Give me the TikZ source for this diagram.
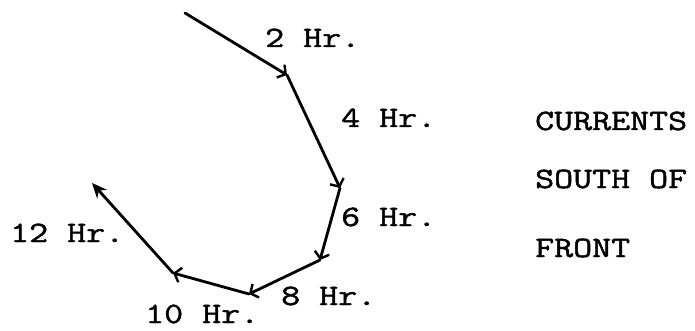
\documentclass[tikz,border=0pt]{standalone}
\usepackage{fontspec}
\newfontfamily\tw{Latin Modern Mono}[FakeStretch=1.25,FakeBold=1.6]
\usetikzlibrary{arrows.meta}
\begin{document}
\begin{tikzpicture}[x=1pt,y=-1pt,
  seg/.style={line width=2.8pt,line cap=round,-{Straight Barb[length=6pt,width=15pt,line width=2.4pt]}},
  lastseg/.style={line width=2.8pt,line cap=round,-{Stealth[length=15pt,width=13pt]}},
  lbl/.style={anchor=base west,inner sep=0pt,font=\tw\fontsize{29.5}{34}\selectfont}]
\useasboundingbox (0,0) rectangle (695,331);
\coordinate (p0) at (185,13);
\coordinate (p1) at (287,75);
\coordinate (p2) at (340,188);
\coordinate (p3) at (320,260);
\coordinate (p4) at (249,294);
\coordinate (p5) at (173,273);
\coordinate (p6) at (92,183);
\draw[seg] (p0) -- (p1);
\draw[seg] (p1) -- (p2);
\draw[seg] (p2) -- (p3);
\draw[seg] (p3) -- (p4);
\draw[seg] (p4) -- (p5);
\draw[lastseg] (p5) -- (p6);
\node[lbl] (l2) at (265,47) {2 Hr.};
\node[lbl] (l4) at (341,127) {4 Hr.};
\node[lbl] (l6) at (341,226) {6 Hr.};
\node[lbl] (l8) at (281,305) {8 Hr.};
\node[lbl] (l10) at (145,323) {10 Hr.};
\node[lbl] (l12) at (10,242) {12 Hr.};
\node[lbl] (t1) at (535,130) {CURRENTS};
\node[lbl] (t2) at (535,188) {SOUTH OF};
\node[lbl] (t3) at (535,257) {FRONT};
\end{tikzpicture}
\end{document}
